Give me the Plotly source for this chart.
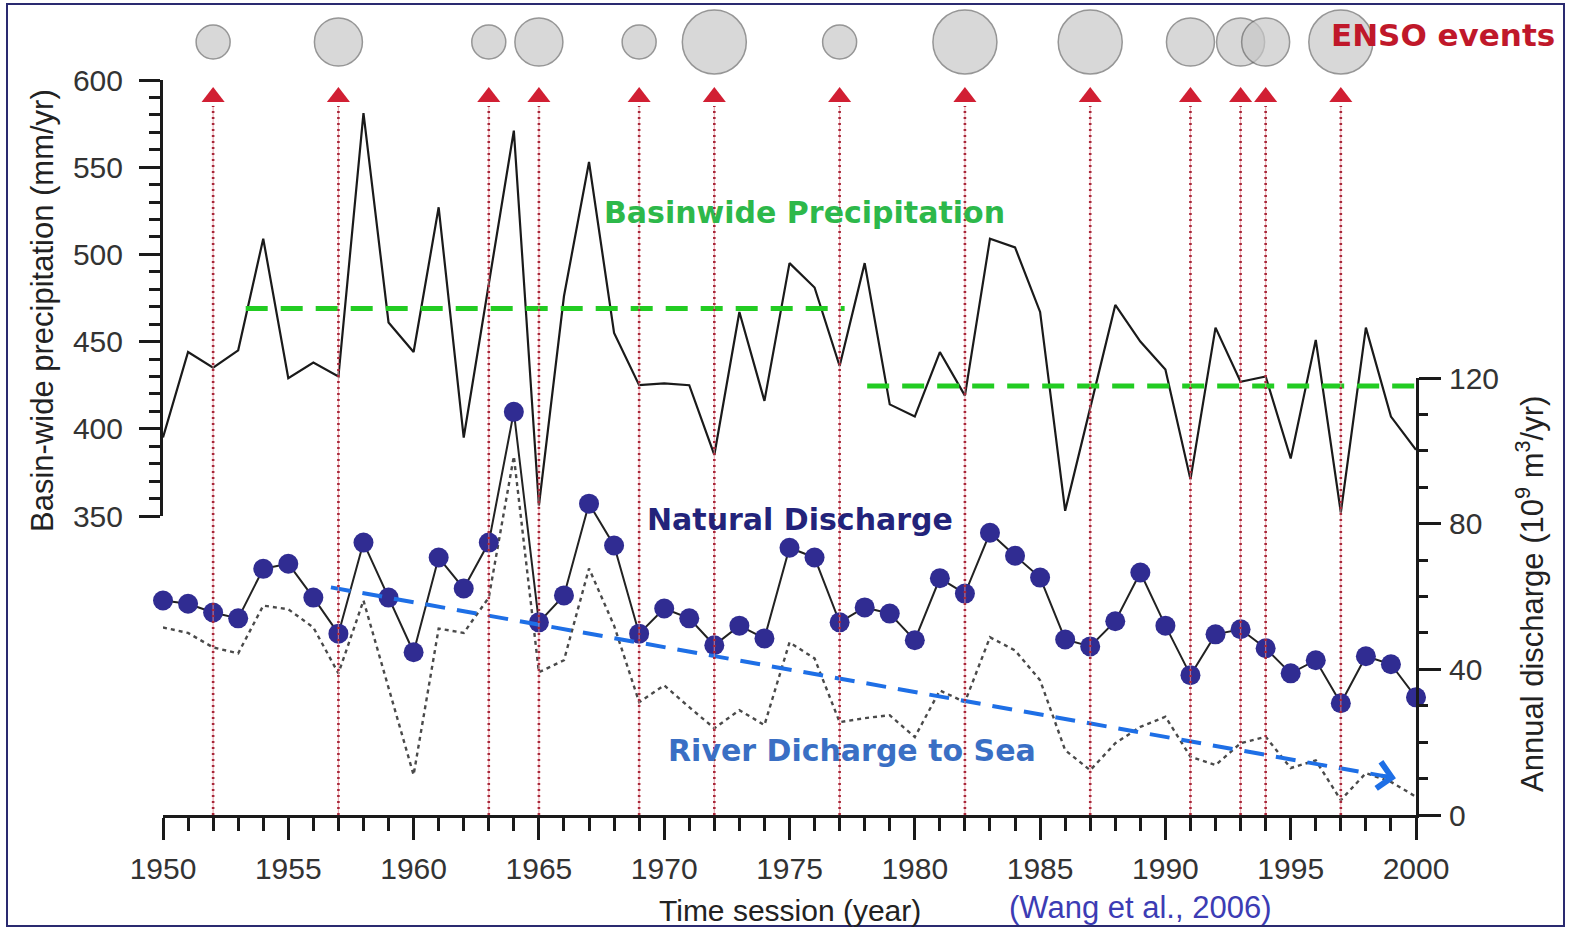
import plotly.graph_objects as go

# ---------------- data ----------------
years = list(range(1950, 2001))
precip = [395, 444, 435, 445, 509, 429, 438, 430, 581, 461,
          444, 527, 395, 484, 571, 356, 476, 553, 455, 425,
          426, 425, 385, 467, 416, 495, 481, 436, 495, 414,
          407, 444, 419, 509, 504, 467, 353, 412, 471, 450,
          434, 371, 458, 427, 430, 383, 451, 352, 458, 407, 388]
natural_discharge = [58.9, 58.0, 55.6, 54.0, 67.6, 69.0, 59.7, 49.8, 74.8, 59.7,
                     44.7, 70.7, 62.2, 74.8, 110.7, 52.9, 60.3, 85.5, 74.0, 49.8,
                     56.7, 54.0, 46.6, 52.0, 48.5, 73.4, 70.7, 52.9, 57.0, 55.3,
                     48.0, 65.0, 60.8, 77.5, 71.2, 65.2, 48.2, 46.3, 53.2, 66.6,
                     52.0, 38.4, 49.6, 51.0, 45.8, 38.9, 42.5, 30.7, 43.6, 41.4, 32.3]
sea_discharge = [51.5, 50.0, 46.0, 44.4, 57.5, 56.5, 51.5, 38.9, 58.9, 35.0,
                 11.0, 51.2, 50.0, 59.7, 98.5, 39.2, 42.5, 67.7, 52.0, 31.0,
                 35.6, 29.6, 23.8, 28.8, 24.7, 47.4, 43.0, 25.5, 26.6, 27.4,
                 21.4, 34.2, 31.0, 48.8, 45.2, 37.0, 17.8, 12.3, 19.7, 24.2,
                 27.0, 16.0, 13.7, 19.7, 21.5, 12.9, 15.0, 4.1, 11.5, 9.1, 5.0]

enso_years = [1952, 1957, 1963, 1965, 1969, 1972, 1977, 1982, 1987, 1991, 1993, 1994, 1997]
enso_strength = [1, 2, 1, 2, 1, 3, 1, 3, 3, 2, 2, 2, 3]   # 1 weak, 2 moderate, 3 strong

# mean precipitation of two periods (start, end, mean)
period_start = [1953.3, 1978.1]
period_end = [1977.2, 2000.0]
period_mean = [469, 424.5]

# river-discharge-to-sea trend (start/end)
trend_years = [1956.7, 1999.2]
trend_values = [62.5, 10.1]

x_tickvals = list(range(1950, 2001, 5))
x_ticktext = [str(v) for v in x_tickvals]
left_tickvals = [350, 400, 450, 500, 550, 600]
right_tickvals = [0, 40, 80, 120]

# ---------------- layout helpers (pixels -> paper) ----------------
W, H = 1570, 929
L, R, T, B = 163, 154, 0, 114
PW, PH = W - L - R, H - T - B


def px(x):
    return (x - L) / PW


def py(y):
    return (H - B - y) / PH


size_map = {1: 34, 2: 48, 3: 64}
circle_sizes = [size_map[s] for s in enso_strength]

fig = go.Figure()

# precipitation (left axis)
fig.add_trace(go.Scatter(x=years, y=precip, yaxis='y', mode='lines',
                         line=dict(color='#1a1a1a', width=2.2), showlegend=False))
for s, e, m in zip(period_start, period_end, period_mean):
    fig.add_trace(go.Scatter(x=[s, e], y=[m, m], yaxis='y', mode='lines',
                             line=dict(color='#22cc22', width=5, dash='22px,13px'),
                             showlegend=False))

# discharge (right axis)
fig.add_trace(go.Scatter(x=years, y=sea_discharge, yaxis='y2', mode='lines',
                         line=dict(color='#4a4a4a', width=2.4, dash='4px,4px'),
                         showlegend=False))
fig.add_trace(go.Scatter(x=years, y=natural_discharge, yaxis='y2', mode='lines+markers',
                         line=dict(color='#222222', width=2),
                         marker=dict(color='#302c92', size=20, line=dict(width=0)),
                         cliponaxis=False, showlegend=False))
fig.add_trace(go.Scatter(x=trend_years, y=trend_values, yaxis='y2', mode='lines',
                         line=dict(color='#1e6fe6', width=4, dash='20px,12px'),
                         showlegend=False))

# ENSO markers (helper axis y3 in pixel units above x-axis)
lx, ly = [], []
for yr in enso_years:
    lx += [yr, yr, None]
    ly += [0, PH - 106, None]
fig.add_trace(go.Scatter(x=lx, y=ly, yaxis='y3', mode='lines',
                         line=dict(color='rgba(230,140,150,0.7)', width=1.2),
                         showlegend=False))
fig.add_trace(go.Scatter(x=lx, y=ly, yaxis='y3', mode='lines',
                         line=dict(color='#a82638', width=2.6, dash='2px,4px'),
                         showlegend=False))
fig.add_trace(go.Scatter(x=enso_years, y=[PH - 97] * len(enso_years), yaxis='y3',
                         mode='markers',
                         marker=dict(symbol='triangle-up', size=20, color='#d11f33'),
                         cliponaxis=False, showlegend=False))
fig.add_trace(go.Scatter(x=enso_years, y=[PH - 42] * len(enso_years), yaxis='y3',
                         mode='markers',
                         marker=dict(symbol='circle', size=circle_sizes, color='#c8c8c8',
                                     line=dict(color='#6a6a6a', width=1.5)),
                         cliponaxis=False, showlegend=False))

tick_font = dict(family='Liberation Sans, Arial, sans-serif', size=30, color='#333333')
axis_col = '#1a1a1a'

fig.update_layout(
    template='none',
    width=W, height=H,
    margin=dict(l=L, r=R, t=T, b=B, pad=0),
    paper_bgcolor='white', plot_bgcolor='rgba(0,0,0,0)',
    showlegend=False,
    xaxis=dict(range=[1950, 2000], domain=[0, 1], anchor='y2',
               tickvals=x_tickvals, ticktext=x_ticktext,
               ticks='outside', ticklen=22, tickwidth=2.5, tickcolor=axis_col,
               minor=dict(dtick=1, tick0=1950, ticks='outside', ticklen=13,
                          tickwidth=2.5, tickcolor=axis_col, showgrid=False),
               showline=True, linecolor=axis_col, linewidth=3,
               showgrid=False, zeroline=False, tickfont=tick_font,
               ticklabelstandoff=3, automargin=False),
    yaxis=dict(range=[350, 600], domain=[py(516), py(80)], anchor='x', side='left',
               tickvals=left_tickvals,
               ticks='outside', ticklen=21, tickwidth=2.5, tickcolor=axis_col,
               minor=dict(dtick=10, tick0=350, ticks='outside', ticklen=11,
                          tickwidth=2.5, tickcolor=axis_col, showgrid=False),
               showline=True, linecolor=axis_col, linewidth=3,
               showgrid=False, zeroline=False, tickfont=tick_font,
               ticklabelstandoff=10, automargin=False),
    yaxis2=dict(range=[0, 120], domain=[0, py(378)], anchor='x', side='right',
                tickvals=right_tickvals,
                ticks='outside', ticklen=22, tickwidth=2.5, tickcolor=axis_col,
                minor=dict(dtick=10, tick0=0, ticks='outside', ticklen=9,
                           tickwidth=2.5, tickcolor=axis_col, showgrid=False),
                showline=True, linecolor=axis_col, linewidth=3,
                showgrid=False, zeroline=False, tickfont=tick_font,
                ticklabelstandoff=2, automargin=False),
    yaxis3=dict(range=[0, PH], domain=[0, 1], anchor='x', visible=False,
                showgrid=False, zeroline=False, automargin=False),
)

# trend arrow head
t = 0.985
ax_pt = trend_years[0] + (trend_years[1] - trend_years[0]) * t
ay_pt = trend_values[0] + (trend_values[1] - trend_values[0]) * t
fig.add_annotation(x=trend_years[1], y=trend_values[1], xref='x', yref='y2',
                   ax=ax_pt, ay=ay_pt, axref='x', ayref='y2', text='',
                   showarrow=True, arrowhead=4, arrowsize=1.3, arrowwidth=4,
                   arrowcolor='#1e6fe6')

bold = 'DejaVu Sans, Verdana, sans-serif'
reg = 'Liberation Sans, Arial, sans-serif'


def label(text, x, y, size, color, family, angle=0, xanchor='center'):
    fig.add_annotation(x=px(x), y=py(y), xref='paper', yref='paper', text=text,
                       showarrow=False, xanchor=xanchor, yanchor='middle',
                       textangle=angle, font=dict(family=family, size=size, color=color))


label('<b>ENSO events</b>', 1557, 35, 31, '#c0182a', bold, xanchor='right')
label('<b>Basinwide Precipitation</b>', 804, 212, 30, '#2db84a', bold)
label('<b>Natural Discharge</b>', 800, 519, 30, '#23237a', bold)
label('<b>River Dicharge to Sea</b>', 852, 750, 30, '#3a6fc4', bold)
label('(Wang et al., 2006)', 1140, 907, 31, '#3c3cb4', reg)
label('Time session (year)', 790, 910, 30, '#222222', reg)
label('Basin-wide precipitation (mm/yr)', 42, 311, 31, '#222222', reg, angle=-90)
label('Annual discharge (10<sup>9</sup> m<sup>3</sup>/yr)', 1530, 594, 31, '#222222', reg, angle=-90)

# outer frame
fig.add_shape(type='rect', xref='paper', yref='paper',
              x0=px(7), x1=px(1564), y0=py(926), y1=py(4),
              line=dict(color='#2a2a70', width=2), fillcolor='rgba(0,0,0,0)', layer='below')

fig.write_html('out.html')
